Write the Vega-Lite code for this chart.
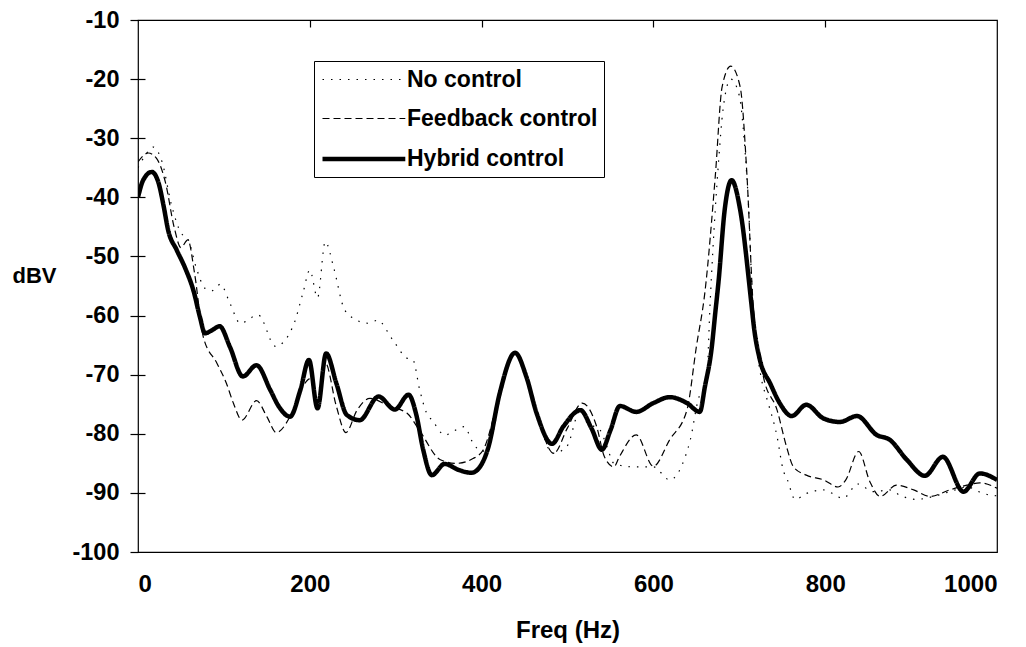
{
  "$schema": "https://vega.github.io/schema/vega-lite/v6.json",
  "width": 859,
  "height": 532,
  "autosize": {"type": "none"},
  "padding": {"left": 138, "top": 20, "right": 29, "bottom": 95},
  "background": "white",
  "config": {
    "view": {"stroke": "black", "strokeWidth": 1.2},
    "font": "Liberation Sans"
  },
  "data": {
    "values": [
      {"f": 0, "dB": -35, "s": "No control"},
      {"f": 8, "dB": -33, "s": "No control"},
      {"f": 18, "dB": -31.5, "s": "No control"},
      {"f": 28, "dB": -34, "s": "No control"},
      {"f": 39, "dB": -41.3, "s": "No control"},
      {"f": 50, "dB": -46, "s": "No control"},
      {"f": 58, "dB": -47, "s": "No control"},
      {"f": 68, "dB": -52, "s": "No control"},
      {"f": 78, "dB": -55.4, "s": "No control"},
      {"f": 86, "dB": -55.8, "s": "No control"},
      {"f": 96, "dB": -54.7, "s": "No control"},
      {"f": 107, "dB": -57.9, "s": "No control"},
      {"f": 119, "dB": -61.3, "s": "No control"},
      {"f": 140, "dB": -59.9, "s": "No control"},
      {"f": 160, "dB": -65.2, "s": "No control"},
      {"f": 181, "dB": -61.6, "s": "No control"},
      {"f": 192, "dB": -56.2, "s": "No control"},
      {"f": 200, "dB": -52.3, "s": "No control"},
      {"f": 209, "dB": -57, "s": "No control"},
      {"f": 218, "dB": -47.5, "s": "No control"},
      {"f": 228, "dB": -52, "s": "No control"},
      {"f": 239, "dB": -58.5, "s": "No control"},
      {"f": 248, "dB": -60.2, "s": "No control"},
      {"f": 268, "dB": -61.3, "s": "No control"},
      {"f": 279, "dB": -60.8, "s": "No control"},
      {"f": 296, "dB": -64, "s": "No control"},
      {"f": 313, "dB": -67.2, "s": "No control"},
      {"f": 320, "dB": -67.5, "s": "No control"},
      {"f": 328, "dB": -72.6, "s": "No control"},
      {"f": 336, "dB": -76.5, "s": "No control"},
      {"f": 343, "dB": -77.8, "s": "No control"},
      {"f": 357, "dB": -80.2, "s": "No control"},
      {"f": 380, "dB": -78.8, "s": "No control"},
      {"f": 389, "dB": -81.3, "s": "No control"},
      {"f": 400, "dB": -83, "s": "No control"},
      {"f": 410, "dB": -81.5, "s": "No control"},
      {"f": 422, "dB": -73.5, "s": "No control"},
      {"f": 439, "dB": -66.5, "s": "No control"},
      {"f": 452, "dB": -70.5, "s": "No control"},
      {"f": 465, "dB": -77, "s": "No control"},
      {"f": 483, "dB": -83.3, "s": "No control"},
      {"f": 499, "dB": -82.2, "s": "No control"},
      {"f": 515, "dB": -76, "s": "No control"},
      {"f": 522, "dB": -78, "s": "No control"},
      {"f": 538, "dB": -79.4, "s": "No control"},
      {"f": 546, "dB": -82.2, "s": "No control"},
      {"f": 554, "dB": -85, "s": "No control"},
      {"f": 577, "dB": -85.6, "s": "No control"},
      {"f": 600, "dB": -85.6, "s": "No control"},
      {"f": 619, "dB": -87.8, "s": "No control"},
      {"f": 637, "dB": -83.9, "s": "No control"},
      {"f": 643, "dB": -81, "s": "No control"},
      {"f": 652, "dB": -74.3, "s": "No control"},
      {"f": 662, "dB": -70.9, "s": "No control"},
      {"f": 666, "dB": -58, "s": "No control"},
      {"f": 672, "dB": -42.1, "s": "No control"},
      {"f": 676, "dB": -33.7, "s": "No control"},
      {"f": 681, "dB": -25.2, "s": "No control"},
      {"f": 690, "dB": -20, "s": "No control"},
      {"f": 700, "dB": -22.8, "s": "No control"},
      {"f": 706, "dB": -30.9, "s": "No control"},
      {"f": 711, "dB": -42.1, "s": "No control"},
      {"f": 715, "dB": -56.2, "s": "No control"},
      {"f": 726, "dB": -70.9, "s": "No control"},
      {"f": 732, "dB": -74, "s": "No control"},
      {"f": 744, "dB": -80.5, "s": "No control"},
      {"f": 751, "dB": -86.1, "s": "No control"},
      {"f": 756, "dB": -87.8, "s": "No control"},
      {"f": 765, "dB": -91.1, "s": "No control"},
      {"f": 778, "dB": -90.1, "s": "No control"},
      {"f": 798, "dB": -89.5, "s": "No control"},
      {"f": 821, "dB": -90.9, "s": "No control"},
      {"f": 838, "dB": -88.5, "s": "No control"},
      {"f": 856, "dB": -89.8, "s": "No control"},
      {"f": 875, "dB": -89.5, "s": "No control"},
      {"f": 887, "dB": -90.4, "s": "No control"},
      {"f": 906, "dB": -91.1, "s": "No control"},
      {"f": 926, "dB": -90.6, "s": "No control"},
      {"f": 945, "dB": -89.8, "s": "No control"},
      {"f": 965, "dB": -89, "s": "No control"},
      {"f": 984, "dB": -90.1, "s": "No control"},
      {"f": 1000, "dB": -90.5, "s": "No control"},

      {"f": 0, "dB": -34, "s": "Feedback control"},
      {"f": 12, "dB": -32.5, "s": "Feedback control"},
      {"f": 22, "dB": -33.5, "s": "Feedback control"},
      {"f": 32, "dB": -37.5, "s": "Feedback control"},
      {"f": 42, "dB": -45, "s": "Feedback control"},
      {"f": 50, "dB": -48.5, "s": "Feedback control"},
      {"f": 58, "dB": -47.2, "s": "Feedback control"},
      {"f": 66, "dB": -53, "s": "Feedback control"},
      {"f": 76, "dB": -63.6, "s": "Feedback control"},
      {"f": 92, "dB": -68.1, "s": "Feedback control"},
      {"f": 103, "dB": -71.5, "s": "Feedback control"},
      {"f": 111, "dB": -74.8, "s": "Feedback control"},
      {"f": 121, "dB": -77.7, "s": "Feedback control"},
      {"f": 138, "dB": -74.4, "s": "Feedback control"},
      {"f": 150, "dB": -77.1, "s": "Feedback control"},
      {"f": 161, "dB": -79.8, "s": "Feedback control"},
      {"f": 177, "dB": -77.1, "s": "Feedback control"},
      {"f": 192, "dB": -72, "s": "Feedback control"},
      {"f": 200, "dB": -70.7, "s": "Feedback control"},
      {"f": 209, "dB": -74.8, "s": "Feedback control"},
      {"f": 218, "dB": -68, "s": "Feedback control"},
      {"f": 231, "dB": -75.4, "s": "Feedback control"},
      {"f": 242, "dB": -79.8, "s": "Feedback control"},
      {"f": 255, "dB": -76, "s": "Feedback control"},
      {"f": 270, "dB": -74, "s": "Feedback control"},
      {"f": 293, "dB": -75.4, "s": "Feedback control"},
      {"f": 313, "dB": -76.5, "s": "Feedback control"},
      {"f": 328, "dB": -79.5, "s": "Feedback control"},
      {"f": 352, "dB": -84.4, "s": "Feedback control"},
      {"f": 371, "dB": -85, "s": "Feedback control"},
      {"f": 390, "dB": -84.2, "s": "Feedback control"},
      {"f": 402, "dB": -82.7, "s": "Feedback control"},
      {"f": 421, "dB": -73.5, "s": "Feedback control"},
      {"f": 439, "dB": -66.5, "s": "Feedback control"},
      {"f": 452, "dB": -70.5, "s": "Feedback control"},
      {"f": 465, "dB": -77, "s": "Feedback control"},
      {"f": 484, "dB": -83.3, "s": "Feedback control"},
      {"f": 500, "dB": -79, "s": "Feedback control"},
      {"f": 517, "dB": -74.8, "s": "Feedback control"},
      {"f": 534, "dB": -78.8, "s": "Feedback control"},
      {"f": 543, "dB": -83.9, "s": "Feedback control"},
      {"f": 554, "dB": -85.6, "s": "Feedback control"},
      {"f": 560, "dB": -84, "s": "Feedback control"},
      {"f": 580, "dB": -80.2, "s": "Feedback control"},
      {"f": 600, "dB": -85.5, "s": "Feedback control"},
      {"f": 619, "dB": -81, "s": "Feedback control"},
      {"f": 639, "dB": -76, "s": "Feedback control"},
      {"f": 650, "dB": -65.3, "s": "Feedback control"},
      {"f": 660, "dB": -56, "s": "Feedback control"},
      {"f": 672, "dB": -36.5, "s": "Feedback control"},
      {"f": 680, "dB": -21.3, "s": "Feedback control"},
      {"f": 690, "dB": -17.8, "s": "Feedback control"},
      {"f": 701, "dB": -21.3, "s": "Feedback control"},
      {"f": 709, "dB": -36.5, "s": "Feedback control"},
      {"f": 716, "dB": -57.9, "s": "Feedback control"},
      {"f": 728, "dB": -70.3, "s": "Feedback control"},
      {"f": 744, "dB": -76, "s": "Feedback control"},
      {"f": 755, "dB": -82.2, "s": "Feedback control"},
      {"f": 763, "dB": -85.6, "s": "Feedback control"},
      {"f": 778, "dB": -87, "s": "Feedback control"},
      {"f": 798, "dB": -87.8, "s": "Feedback control"},
      {"f": 815, "dB": -89, "s": "Feedback control"},
      {"f": 824, "dB": -87.8, "s": "Feedback control"},
      {"f": 839, "dB": -83, "s": "Feedback control"},
      {"f": 852, "dB": -88.1, "s": "Feedback control"},
      {"f": 864, "dB": -90.6, "s": "Feedback control"},
      {"f": 883, "dB": -88.7, "s": "Feedback control"},
      {"f": 903, "dB": -89.5, "s": "Feedback control"},
      {"f": 922, "dB": -90.6, "s": "Feedback control"},
      {"f": 945, "dB": -89.5, "s": "Feedback control"},
      {"f": 965, "dB": -88.7, "s": "Feedback control"},
      {"f": 980, "dB": -88.3, "s": "Feedback control"},
      {"f": 1000, "dB": -89.2, "s": "Feedback control"},

      {"f": 0, "dB": -40, "s": "Hybrid control"},
      {"f": 6, "dB": -37.1, "s": "Hybrid control"},
      {"f": 16, "dB": -35.7, "s": "Hybrid control"},
      {"f": 24, "dB": -37.6, "s": "Hybrid control"},
      {"f": 30, "dB": -41.6, "s": "Hybrid control"},
      {"f": 35, "dB": -45.5, "s": "Hybrid control"},
      {"f": 45, "dB": -48.9, "s": "Hybrid control"},
      {"f": 55, "dB": -52, "s": "Hybrid control"},
      {"f": 65, "dB": -56, "s": "Hybrid control"},
      {"f": 72, "dB": -60.2, "s": "Hybrid control"},
      {"f": 78, "dB": -63, "s": "Hybrid control"},
      {"f": 86, "dB": -62.5, "s": "Hybrid control"},
      {"f": 95, "dB": -61.8, "s": "Hybrid control"},
      {"f": 107, "dB": -65.3, "s": "Hybrid control"},
      {"f": 122, "dB": -70.3, "s": "Hybrid control"},
      {"f": 138, "dB": -68.4, "s": "Hybrid control"},
      {"f": 154, "dB": -72.6, "s": "Hybrid control"},
      {"f": 164, "dB": -75.4, "s": "Hybrid control"},
      {"f": 177, "dB": -77.1, "s": "Hybrid control"},
      {"f": 189, "dB": -72.6, "s": "Hybrid control"},
      {"f": 199, "dB": -67.5, "s": "Hybrid control"},
      {"f": 209, "dB": -75.7, "s": "Hybrid control"},
      {"f": 219, "dB": -66.4, "s": "Hybrid control"},
      {"f": 231, "dB": -71.5, "s": "Hybrid control"},
      {"f": 243, "dB": -76.8, "s": "Hybrid control"},
      {"f": 258, "dB": -77.7, "s": "Hybrid control"},
      {"f": 280, "dB": -73.7, "s": "Hybrid control"},
      {"f": 299, "dB": -75.9, "s": "Hybrid control"},
      {"f": 315, "dB": -73.4, "s": "Hybrid control"},
      {"f": 324, "dB": -76.8, "s": "Hybrid control"},
      {"f": 332, "dB": -82.7, "s": "Hybrid control"},
      {"f": 342, "dB": -87, "s": "Hybrid control"},
      {"f": 357, "dB": -85.1, "s": "Hybrid control"},
      {"f": 373, "dB": -86.1, "s": "Hybrid control"},
      {"f": 388, "dB": -86.6, "s": "Hybrid control"},
      {"f": 397, "dB": -85.8, "s": "Hybrid control"},
      {"f": 408, "dB": -82.2, "s": "Hybrid control"},
      {"f": 421, "dB": -73.2, "s": "Hybrid control"},
      {"f": 439, "dB": -66.3, "s": "Hybrid control"},
      {"f": 452, "dB": -70.3, "s": "Hybrid control"},
      {"f": 464, "dB": -76.5, "s": "Hybrid control"},
      {"f": 482, "dB": -81.7, "s": "Hybrid control"},
      {"f": 495, "dB": -78.8, "s": "Hybrid control"},
      {"f": 515, "dB": -76, "s": "Hybrid control"},
      {"f": 528, "dB": -79.1, "s": "Hybrid control"},
      {"f": 540, "dB": -82.7, "s": "Hybrid control"},
      {"f": 550, "dB": -79.4, "s": "Hybrid control"},
      {"f": 561, "dB": -75.3, "s": "Hybrid control"},
      {"f": 580, "dB": -76.3, "s": "Hybrid control"},
      {"f": 600, "dB": -74.8, "s": "Hybrid control"},
      {"f": 619, "dB": -73.8, "s": "Hybrid control"},
      {"f": 639, "dB": -74.8, "s": "Hybrid control"},
      {"f": 654, "dB": -76.3, "s": "Hybrid control"},
      {"f": 660, "dB": -72, "s": "Hybrid control"},
      {"f": 668, "dB": -65.3, "s": "Hybrid control"},
      {"f": 672, "dB": -59.6, "s": "Hybrid control"},
      {"f": 676, "dB": -54, "s": "Hybrid control"},
      {"f": 683, "dB": -42.1, "s": "Hybrid control"},
      {"f": 691, "dB": -37.1, "s": "Hybrid control"},
      {"f": 701, "dB": -42.1, "s": "Hybrid control"},
      {"f": 714, "dB": -57.9, "s": "Hybrid control"},
      {"f": 717, "dB": -61.9, "s": "Hybrid control"},
      {"f": 724, "dB": -67.5, "s": "Hybrid control"},
      {"f": 736, "dB": -71.5, "s": "Hybrid control"},
      {"f": 747, "dB": -74.8, "s": "Hybrid control"},
      {"f": 761, "dB": -77, "s": "Hybrid control"},
      {"f": 778, "dB": -75.1, "s": "Hybrid control"},
      {"f": 798, "dB": -77.4, "s": "Hybrid control"},
      {"f": 817, "dB": -78, "s": "Hybrid control"},
      {"f": 837, "dB": -77, "s": "Hybrid control"},
      {"f": 860, "dB": -80.2, "s": "Hybrid control"},
      {"f": 875, "dB": -81, "s": "Hybrid control"},
      {"f": 895, "dB": -84.4, "s": "Hybrid control"},
      {"f": 916, "dB": -87.1, "s": "Hybrid control"},
      {"f": 937, "dB": -83.9, "s": "Hybrid control"},
      {"f": 961, "dB": -89.8, "s": "Hybrid control"},
      {"f": 980, "dB": -86.7, "s": "Hybrid control"},
      {"f": 1000, "dB": -87.8, "s": "Hybrid control"}
    ]
  },
  "layer": [
    {
      "mark": {"type": "line", "color": "black", "interpolate": "monotone", "clip": true},
      "encoding": {
        "x": {
          "field": "f", "type": "quantitative",
          "scale": {"domain": [0, 1000], "nice": false, "zero": false},
          "axis": {
            "orient": "bottom",
            "values": [0, 200, 400, 600, 800, 1000],
            "format": "d",
            "title": "Freq (Hz)",
            "grid": false, "ticks": false, "domain": false,
            "labelFont": "Liberation Sans", "labelFontSize": 24, "labelFontWeight": "bold", "labelColor": "black",
            "labelPadding": 20,
            "titleFont": "Liberation Sans", "titleFontSize": 24, "titleFontWeight": "bold", "titleColor": "black",
            "titlePadding": 22
          }
        },
        "y": {
          "field": "dB", "type": "quantitative",
          "scale": {"domain": [-100, -10], "nice": false, "zero": false},
          "axis": {
            "orient": "left",
            "values": [-100, -90, -80, -70, -60, -50, -40, -30, -20, -10],
            "labelExpr": "replace(format(datum.value, 'd'), '\u2212', '-')",
            "title": "dBV",
            "grid": false, "domain": false,
            "ticks": true, "tickSize": 8, "tickColor": "black", "tickWidth": 1.2,
            "labelFont": "Liberation Sans", "labelFontSize": 23.5, "labelFontWeight": "bold", "labelColor": "black",
            "labelPadding": 11,
            "titleFont": "Liberation Sans", "titleFontSize": 22, "titleFontWeight": "bold", "titleColor": "black",
            "titleAngle": 0, "titleAlign": "center", "titleBaseline": "middle",
            "titleX": -104, "titleY": 255
          }
        },
        "strokeDash": {
          "field": "s", "type": "nominal",
          "scale": {"domain": ["No control", "Feedback control", "Hybrid control"], "range": [[1.5, 7], [7, 4], [1, 0]]},
          "legend": {
            "orient": "none", "legendX": 176, "legendY": 41, "direction": "vertical",
            "title": null,
            "symbolType": "M-1,0H6.2", "symbolSize": 529, "symbolStrokeColor": "black",
            "labelFont": "Liberation Sans", "labelFontSize": 23, "labelFontWeight": "bold", "labelColor": "black",
            "labelLimit": 500,
            "labelOffset": 59, "rowPadding": 14,
            "strokeColor": "black", "fillColor": "white", "padding": 6
          }
        },
        "strokeWidth": {
          "field": "s", "type": "ordinal",
          "scale": {"type": "ordinal", "domain": ["No control", "Feedback control", "Hybrid control"], "range": [1.2, 1.2, 4.5]},
          "legend": {
            "orient": "none", "legendX": 176, "legendY": 41, "direction": "vertical",
            "title": null,
            "symbolType": "M-1,0H6.2", "symbolSize": 529, "symbolStrokeColor": "black",
            "labelFont": "Liberation Sans", "labelFontSize": 23, "labelFontWeight": "bold", "labelColor": "black",
            "labelLimit": 500,
            "labelOffset": 59, "rowPadding": 14,
            "strokeColor": "black", "fillColor": "white", "padding": 6
          }
        }
      }
    },
    {
      "mark": {"type": "line", "opacity": 0, "color": "black"},
      "encoding": {
        "x": {
          "field": "f", "type": "quantitative",
          "scale": {"domain": [0, 1000], "nice": false, "zero": false},
          "axis": {
            "orient": "top",
            "values": [200, 400, 600, 800],
            "labels": false, "domain": false, "grid": false, "title": null,
            "ticks": true, "tickSize": -7, "tickColor": "black", "tickWidth": 1.2
          }
        },
        "y": {
          "field": "dB", "type": "quantitative",
          "scale": {"domain": [-100, -10], "nice": false, "zero": false},
          "axis": {
            "orient": "left",
            "values": [-90, -80, -70, -60, -50, -40, -30, -20],
            "labels": false, "domain": false, "grid": false, "title": null,
            "ticks": true, "tickSize": -7, "tickColor": "black", "tickWidth": 1.2
          }
        },
        "detail": {"field": "s", "type": "nominal"}
      }
    }
  ],
  "resolve": {"axis": {"x": "independent", "y": "independent"}}
}
